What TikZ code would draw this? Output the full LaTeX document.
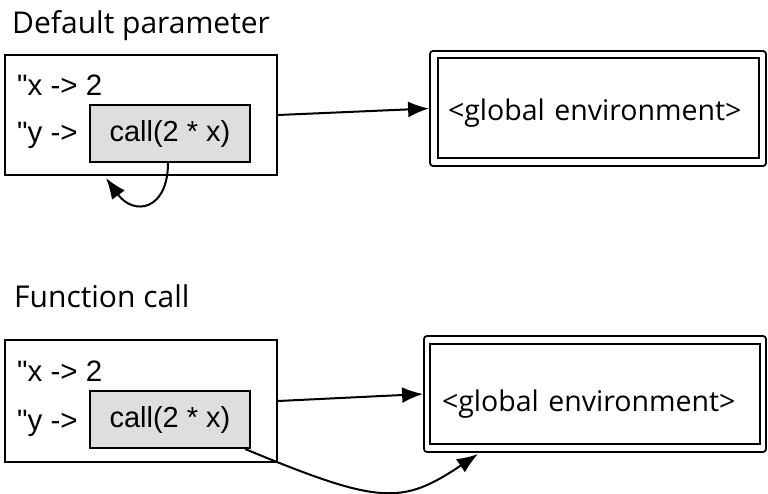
\documentclass[tikz,border=0pt]{standalone}
\usepackage{fontspec}
\setmainfont{Open Sans}
\newfontfamily\cellfont{Liberation Sans}
\usepackage{xcolor}
\usetikzlibrary{arrows.meta,positioning}
\definecolor{cellgray}{RGB}{221,222,222}
\tikzset{%
	frame/.style    = {draw, line width=2pt, rectangle, minimum width=272pt, inner sep=0pt}, % environment frame
	promise/.style  = {draw, line width=1.8pt, fill=cellgray, rectangle, minimum width=160pt, minimum height=57pt, font=\cellfont\fontsize{29}{34}\selectfont}, % unevaluated value
	binding/.style  = {anchor=base west, inner sep=0pt, font=\cellfont\fontsize{29.5}{34}\selectfont}, % name -> value
	title/.style    = {anchor=base west, inner sep=0pt, font=\fontsize{30}{36}\selectfont},
	genvout/.style  = {draw, line width=1.8pt, rectangle, rounded corners=3pt}, % outer border
	genvin/.style   = {draw, line width=1.8pt, rectangle, align=left, inner xsep=10pt, text depth=6pt, font=\fontsize{28.5}{34}\selectfont},
	arrow/.style    = {line width=2pt, -{Latex[length=21pt,width=16pt]}},
}
\begin{document}
\begin{tikzpicture}[x=1pt,y=-1pt]
	\useasboundingbox (0,0) rectangle (768,493);
	% default parameter
	\node[title] (title1) at (12,33) {Default parameter};
	\node[frame, minimum height=120pt] (frame1) at (141,115) {};
	\node[binding] (x1) at (17,95) {"x -> 2};
	\node[binding] (y1) at (17,142) {"y ->};
	\node[promise] (prom1) at (170,133.5) {call(2 * x)};
	\node[genvout, minimum width=336pt, minimum height=115pt] (genv1) at (598,108.5) {};
	\node[genvin, minimum width=321pt, minimum height=100pt, text width=301pt, text height=30pt] (genvin1) at (598.5,108) {<global environment>};
	\coordinate (loop1) at (106,178);
	
	\draw[arrow] (frame1.east) -- (genv1.west);
	\draw[arrow] ([xshift=-2pt]prom1.south) to[out=-90,in=-54,looseness=1.9] (loop1);
	
	% function call
	\node[title] (title2) at (14,307) {Function call};
	\node[frame, minimum height=122pt] (frame2) at (141,401) {};
	\node[binding] (x2) at (17,381) {"x -> 2};
	\node[binding] (y2) at (17,430) {"y ->};
	\node[promise] (prom2) at (170,419.5) {call(2 * x)};
	\node[genvout, minimum width=342pt, minimum height=116pt] (genv2) at (595,394) {};
	\node[genvin, minimum width=330pt, minimum height=100pt, text width=306pt, inner xsep=12pt, text height=40pt] (genvin2) at (595,394) {<global environment>};
	\coordinate (call2) at (478,454);
	
	\draw[arrow] (frame2.east) -- (genv2.west);
	\draw[arrow] ([xshift=-6pt]prom2.south east) .. controls (380,505) and (402,505) .. (call2);
\end{tikzpicture}
\end{document}
